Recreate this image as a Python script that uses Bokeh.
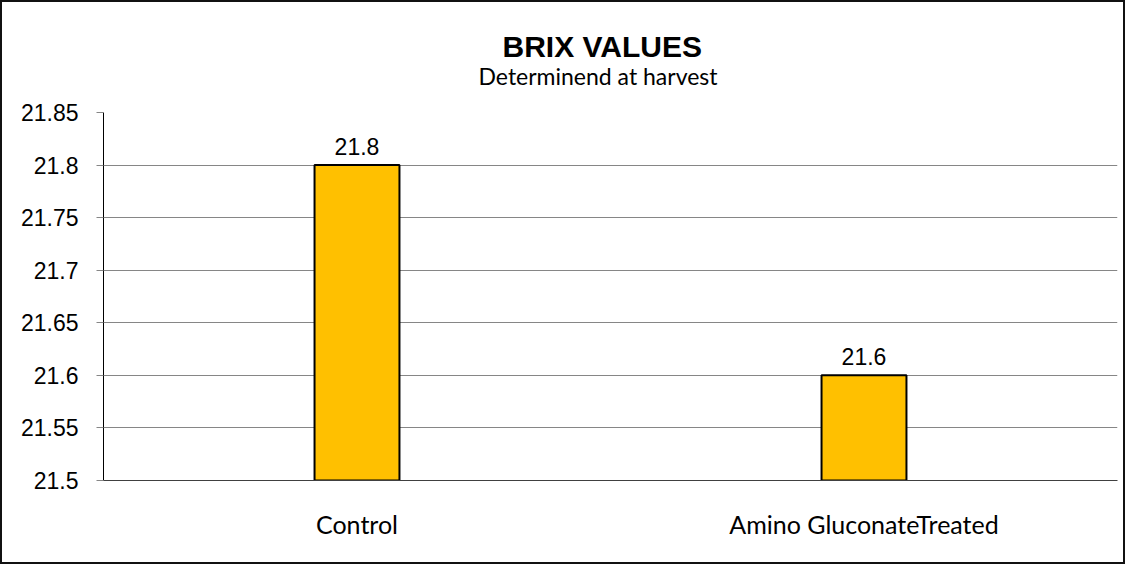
from bokeh.plotting import figure
from bokeh.models import Title, FactorRange, Range1d, FixedTicker, ColumnDataSource, LabelSet
from bokeh.core.properties import value
from bokeh.embed import file_html
from bokeh.resources import INLINE

categories = ["Control", "Amino GluconateTreated"]
values = [21.8, 21.6]
value_labels = ["21.8", "21.6"]
y_ticks = [21.5, 21.55, 21.6, 21.65, 21.7, 21.75, 21.8, 21.85]
y_tick_labels = ["21.5", "21.55", "21.6", "21.65", "21.7", "21.75", "21.8", "21.85"]
title_text = "BRIX VALUES"
subtitle_text = "Determinend at harvest"

src = ColumnDataSource(dict(x=categories, top=values, label=value_labels))

p = figure(width=1125, height=564, output_backend="svg", toolbar_location=None,
           x_range=FactorRange(*categories, range_padding=0),
           y_range=Range1d(21.5, 21.85),
           min_border_left=101, min_border_right=10, min_border_top=110, min_border_bottom=86)
p.styles = {"border": "2px solid #111111", "box-sizing": "border-box"}

sub = Title(text=subtitle_text, align="left", offset=375, standoff=46, text_font="Lato",
            text_font_size="23px", text_font_style="normal", text_color="#000000")
p.add_layout(sub, "above")
ttl = Title(text=title_text, align="left", offset=399, standoff=-53, text_font="Liberation Sans",
            text_font_size="30px", text_font_style="bold", text_color="#000000")
p.add_layout(ttl, "above")

p.vbar(x="x", top="top", bottom=21.5, width=0.1675, source=src,
       fill_color="#FFC000", line_color="#000000", line_width=2)

labels = LabelSet(x="x", y="top", text="label", source=src, text_align="center",
                  text_baseline="alphabetic", y_offset=10, text_font=value("Liberation Sans"),
                  text_font_size=value("23px"), text_color="#000000")
p.add_layout(labels)

p.outline_line_color = None
p.xgrid.grid_line_color = None
p.ygrid.grid_line_color = "#868686"
p.ygrid.grid_line_width = 1

p.yaxis.ticker = FixedTicker(ticks=y_ticks)
p.yaxis.major_label_overrides = {t: l for t, l in zip(y_ticks, y_tick_labels)}
p.yaxis.axis_line_color = "#000000"
p.yaxis.major_tick_line_color = "#868686"
p.yaxis.major_tick_out = 7
p.yaxis.major_tick_in = 0
p.yaxis.minor_tick_line_color = None
p.yaxis.major_label_standoff = 18
p.yaxis.major_label_text_font = "Liberation Sans"
p.yaxis.major_label_text_font_size = "23px"
p.yaxis.major_label_text_color = "#000000"

p.xaxis.axis_line_color = "#404040"
p.xaxis.major_tick_line_color = None
p.xaxis.minor_tick_line_color = None
p.xaxis.major_label_standoff = 22
p.xaxis.major_label_text_font = "Lato"
p.xaxis.major_label_text_font_size = "25px"
p.xaxis.major_label_text_color = "#000000"

open("out.html", "w").write(file_html(p, INLINE))
